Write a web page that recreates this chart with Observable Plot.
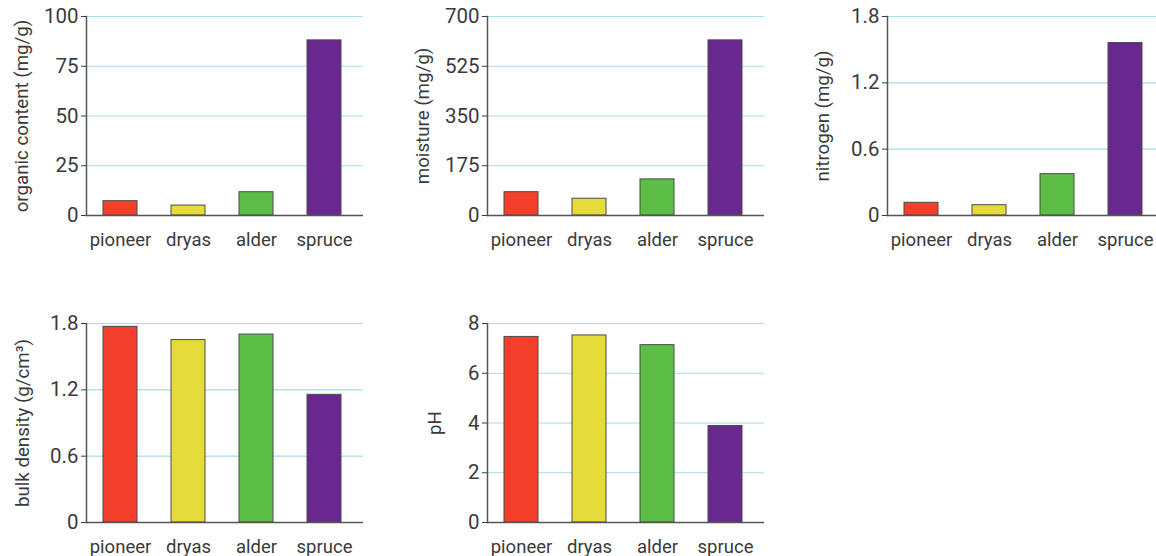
<!DOCTYPE html>
<html><head><meta charset="utf-8">
<script src="https://cdn.jsdelivr.net/npm/d3@7"></script>
<script src="https://cdn.jsdelivr.net/npm/@observablehq/plot@0.6"></script>
<style>
html,body{margin:0;padding:0;background:#fff;overflow:hidden;}
#root{position:relative;width:1156px;height:556px;overflow:hidden;}
.panel{position:absolute;width:380px;height:260px;}
.panel svg{max-width:none !important;}
</style></head><body><div id="root"></div>
<script>
const sites = ["pioneer", "dryas", "alder", "spruce"];
const colors = ["#f4402a", "#e5dc3b", "#5cbd47", "#68288f"];

const organic = [7.2, 5.0, 11.7, 88];
const moisture = [82, 59, 127, 616];
const nitrogen = [0.115, 0.093, 0.374, 1.56];
const bulkDensity = [1.77, 1.65, 1.70, 1.155];
const pH = [7.46, 7.52, 7.13, 3.88];

const organicTicks = [0, 25, 50, 75, 100];
const moistureTicks = [0, 175, 350, 525, 700];
const nitrogenTicks = [0, 0.6, 1.2, 1.8];
const bulkTicks = [0, 0.6, 1.2, 1.8];
const pHTicks = [0, 2, 4, 6, 8];

const panels = [
  {values: organic, ticks: organicTicks, label: "organic content (mg/g)", left: 0, top: 0, labelDx: 64},
  {values: moisture, ticks: moistureTicks, label: "moisture (mg/g)", left: 401, top: 0, labelDx: 64},
  {values: nitrogen, ticks: nitrogenTicks, label: "nitrogen (mg/g)", left: 801, top: 0, labelDx: 64},
  {values: bulkDensity, ticks: bulkTicks, label: "bulk density (g/cm³)", left: 0, top: 307, labelDx: 63},
  {values: pH, ticks: pHTicks, label: "pH", left: 401, top: 307, labelDx: 52}
];

const root = document.getElementById("root");
for (const p of panels) {
  const data = sites.map((s, i) => ({site: s, value: p.values[i]}));
  const chart = Plot.plot({
    width: 380, height: 260,
    marginLeft: 86, marginRight: 17, marginTop: 16, marginBottom: 45,
    style: {fontFamily: 'Roboto, "Noto Sans", sans-serif', fontSize: "18.5px", color: "#3a3a3a", background: "transparent", overflow: "visible"},
    x: {domain: sites, range: [86, 358], paddingInner: 0.5, paddingOuter: 0.25},
    y: {domain: [p.ticks[0], p.ticks[p.ticks.length - 1]]},
    color: {domain: sites, range: colors},
    marks: [
      Plot.ruleY(p.ticks.slice(1), {stroke: "#a5dde8", strokeWidth: 1.2}),
      Plot.barY(data, {x: "site", y: "value", fill: "site", stroke: "#4a4a4a", strokeWidth: 1}),
      Plot.ruleY([0], {stroke: "#555", strokeWidth: 1.5}),
      Plot.frame({anchor: "left", stroke: "#555", strokeWidth: 1.5}),
      Plot.axisY({ticks: p.ticks, tickFormat: d => String(d), tickSize: 5, tickPadding: 3, fontSize: 20.5, label: null}),
      Plot.text([p.label], {text: d => d, frameAnchor: "left", textAnchor: "middle", lineAnchor: "middle", dx: -p.labelDx, rotate: -90, fontSize: 18.7, fill: "#3a3a3a"}),
      Plot.axisX({tickSize: 0, tickPadding: 17, label: null})
    ]
  });
  const div = document.createElement("div");
  div.className = "panel";
  div.style.left = p.left + "px";
  div.style.top = p.top + "px";
  div.appendChild(chart);
  root.appendChild(div);
}
</script>
</body></html>
